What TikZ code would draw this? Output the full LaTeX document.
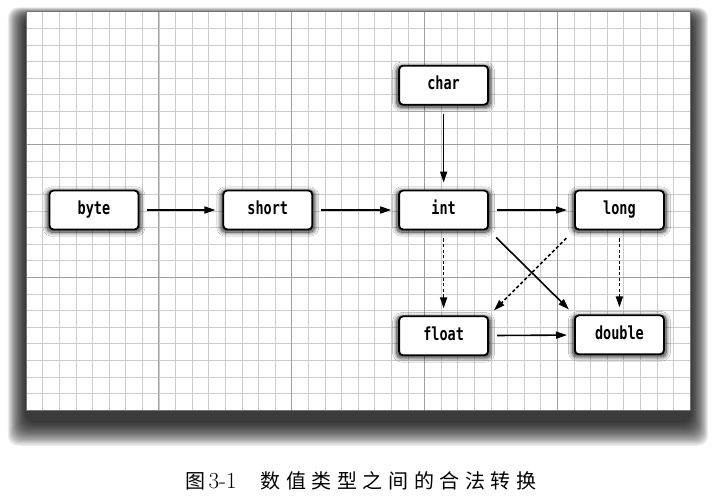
\documentclass[tikz,border=0pt]{standalone}
\usepackage{fontspec}
\newfontfamily\typefont[FakeStretch=0.75]{DejaVu Sans Mono}
\newfontfamily\cjk[LetterSpace=28]{Noto Sans CJK SC}
\usepackage{tikz}
\usetikzlibrary{arrows.meta, positioning, shadows.blur}

\begin{document}
\begin{tikzpicture}[
    x=1pt, y=1pt,
    node distance=84pt,
    box/.style={rectangle, draw, line width=1.8pt, rounded corners=4pt, fill=white, minimum width=89pt, minimum height=39pt, text height=12.5pt, text depth=3.5pt, font=\typefont\bfseries\fontsize{18}{20}\selectfont, blur shadow={shadow xshift=0pt, shadow yshift=-1.5pt, shadow blur radius=4pt, shadow blur steps=12, shadow opacity=85, shadow scale=1.05}},
    arrow/.style={-{Triangle[length=11pt,width=7pt]}, line width=1.6pt, shorten >=7pt, shorten <=8pt},
    dotarrow/.style={arrow, dash pattern=on 3.2pt off 2.4pt}
]
    \useasboundingbox (0,0) rectangle (712,503);
    % paper shadow
    \foreach \i in {0,...,19}
        \fill[black, opacity=0.07, rounded corners=10pt] (25-\i*0.9,80-\i*1.2) rectangle (691+\i*0.9,486+\i*0.5);
    % paper with grid
    \fill[white] (26,93) rectangle (690,492);
    \begin{scope}[shift={(26,93)}]
        \draw[gray!40, line width=0.5pt, step=16.6pt] (0,0) grid (664,399);
        \draw[gray!75, line width=0.7pt, step=132.8pt] (0,0) grid (664,399);
        \draw[gray!90!black, line width=0.8pt] (0,0) rectangle (664,399);
    \end{scope}

    \node[box] (byte) at (94,293) {byte};
    \node[box, right=83pt of byte] (short) {short};
    \node[box, right=85pt of short] (int) {int};
    \node[box, right=85pt of int] (long) {long};
    \node[box, above=84pt of int] (char) {char};
    \node[box, below=85pt of int] (float) {float};
    \node[box, below=84pt of long] (double) {double};

    \draw[arrow] (byte) -- (short);
    \draw[arrow] (short) -- (int);
    \draw[arrow] (int) -- (long);
    \draw[arrow] (char) -- (int);
    \draw[dotarrow] (int) -- (float);
    \draw[dotarrow] (long) -- (double);
    \draw[dotarrow, shorten <=11pt] (long.south west) -- (float.north east);
    \draw[arrow, shorten <=10pt] (int.south east) -- (double.north west);
    \draw[arrow] (float) -- (double);

    % caption
    \node[anchor=west, inner sep=0pt, font=\fontsize{20}{24}\selectfont] (caption) at (185,22) {{\cjk 图}\,{\fontsize{23}{24}\selectfont 3-1}\hspace{24pt}{\cjk 数值类型之间的合法转换}};
\end{tikzpicture}
\end{document}
